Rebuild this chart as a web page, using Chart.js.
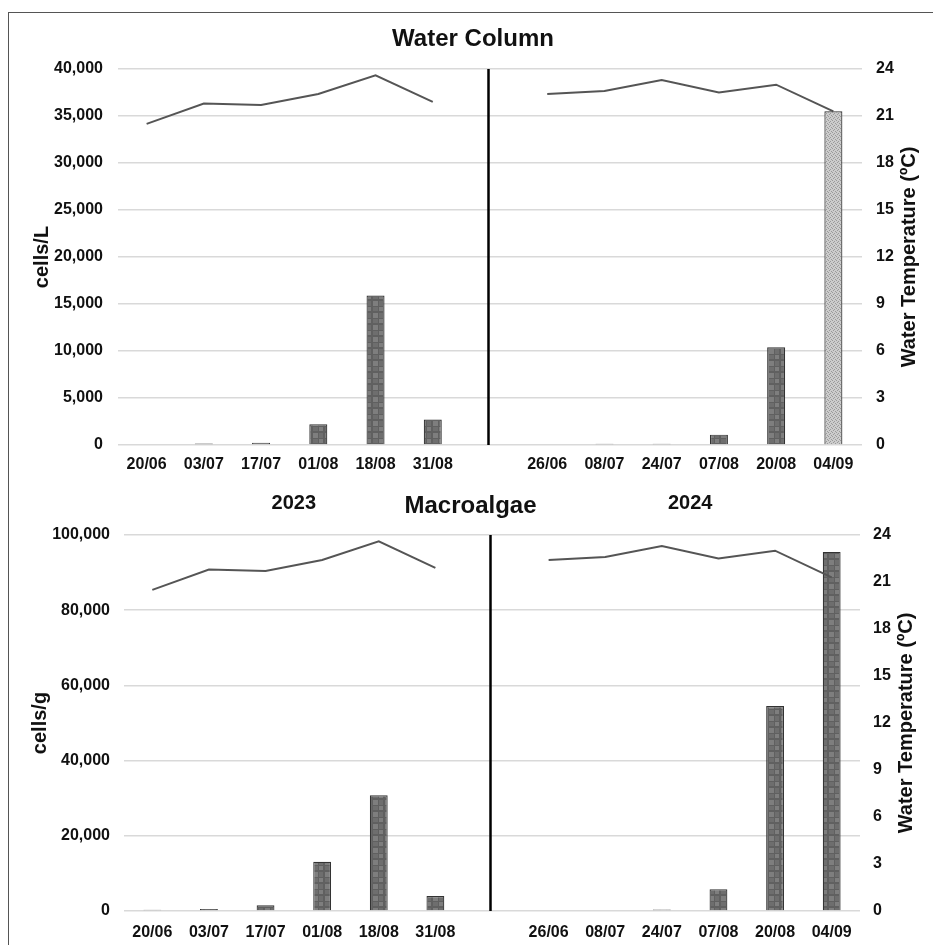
<!DOCTYPE html>
<html><head><meta charset="utf-8">
<script src="https://cdn.jsdelivr.net/npm/chart.js@4/dist/chart.umd.min.js"></script>
<style>
html,body{margin:0;padding:0;background:#fff;}
body{width:933px;height:945px;position:relative;overflow:hidden;}
#frame{position:absolute;left:8px;top:12px;width:1000px;height:1000px;border-left:1.5px solid #555;border-top:1.5px solid #555;}
.wrap{position:absolute;left:0;width:933px;}
#w1{top:0;height:475px;}
#w2{top:475px;height:470px;}
canvas{display:block;}
</style></head><body>
<div id="frame"></div>
<div class="wrap" id="w1"><canvas id="c1" width="933" height="475"></canvas></div>
<div class="wrap" id="w2"><canvas id="c2" width="933" height="470"></canvas></div>
<script>
// ---- data ----
const dates2023 = ['20/06','03/07','17/07','01/08','18/08','31/08'];
const dates2024 = ['26/06','08/07','24/07','07/08','20/08','04/09'];
const temp2023 = [20.5, 21.8, 21.7, 22.4, 23.6, 21.9];
const temp2024 = [22.4, 22.6, 23.3, 22.5, 23.0, 21.3];
const waterColumn2023 = [0, 150, 250, 2200, 15900, 2700];
const waterColumn2024 = [0, 120, 120, 1100, 10400, 35500];
const macroalgae2023 = [300, 500, 1500, 13100, 30800, 4000];
const macroalgae2024 = [0, 0, 400, 5800, 54500, 95500];
const yearLabels = ['2023', '2024'];

const categories = [...dates2023, '', ...dates2024];
const tempSeries = [...temp2023, null, ...temp2024];
const wcSeries = [...waterColumn2023, null, ...waterColumn2024];
const maSeries = [...macroalgae2023, null, ...macroalgae2024];

// ---- styles ----
const FONT = "'Liberation Sans', Arial, Helvetica, sans-serif";
Chart.defaults.font.family = FONT;
Chart.defaults.color = '#111';

function makePattern(kind) {
  const c = document.createElement('canvas');
  const ctx = c.getContext('2d');
  if (kind === 'dark') {
    c.width = 12; c.height = 12;
    ctx.fillStyle = '#606060'; ctx.fillRect(0, 0, 12, 12);
    ctx.fillStyle = '#7e7e7e';
    ctx.fillRect(1, 1, 5, 5); ctx.fillRect(7, 7, 4, 4);
    ctx.fillStyle = '#6e6e6e';
    ctx.fillRect(7, 1, 4, 5); ctx.fillRect(1, 7, 5, 4);
  } else {
    c.width = 4; c.height = 4;
    ctx.fillStyle = '#cccccc'; ctx.fillRect(0, 0, 4, 4);
    ctx.fillStyle = '#9a9a9a';
    ctx.fillRect(0, 0, 1, 1); ctx.fillRect(2, 1, 1, 1); ctx.fillRect(1, 2, 1, 1); ctx.fillRect(3, 3, 1, 1);
  }
  return document.createElement('canvas').getContext('2d').createPattern(c, 'repeat');
}
const darkPat = makePattern('dark');
const lightPat = makePattern('light');

const overlay = {
  id: 'overlay',
  afterDatasetsDraw(chart, args, o) {
    const ctx = chart.ctx, ca = chart.chartArea, xs = chart.scales.x;
    ctx.save();
    // separator between years
    const xSep = xs.getPixelForValue(6) - 1.5;
    ctx.strokeStyle = '#000'; ctx.lineWidth = 2.5;
    ctx.beginPath(); ctx.moveTo(xSep, ca.top); ctx.lineTo(xSep, ca.bottom); ctx.stroke();
    // right axis title (reads bottom-to-top)
    ctx.fillStyle = '#111';
    ctx.font = 'bold 20px ' + FONT;
    ctx.textAlign = 'center'; ctx.textBaseline = 'middle';
    ctx.save();
    ctx.translate(o.rightTitleX, (ca.top + ca.bottom) / 2);
    ctx.rotate(-Math.PI / 2);
    ctx.fillText('Water Temperature (ºC)', 0, 0);
    ctx.restore();
    // panel title
    ctx.font = 'bold 24px ' + FONT;
    ctx.fillText(o.title, o.titleX, o.titleY);
    // year labels
    if (o.yearY) {
      ctx.font = 'bold 20px ' + FONT;
      const x1 = (xs.getPixelForValue(2) + xs.getPixelForValue(3)) / 2;
      const x2 = (xs.getPixelForValue(9) + xs.getPixelForValue(10)) / 2;
      ctx.fillText(yearLabels[0], x1, o.yearY);
      ctx.fillText(yearLabels[1], x2, o.yearY);
    }
    ctx.restore();
  }
};

function build(id, cfg) {
  const barColors = categories.map((_, i) => (cfg.lightLast && i === categories.length - 1) ? lightPat : darkPat);
  const tickFont = { size: 16, weight: 'bold' };
  return new Chart(document.getElementById(id), {
    type: 'bar',
    data: {
      labels: categories,
      datasets: [
        { type: 'line', data: tempSeries, yAxisID: 'y1', borderColor: '#555', borderWidth: 2,
          pointRadius: 0, tension: 0, spanGaps: false, order: 0 },
        { type: 'bar', data: cfg.bars, yAxisID: 'y', backgroundColor: barColors,
          borderColor: '#333', borderWidth: 1.2, barPercentage: 0.9, categoryPercentage: 0.35, order: 1 }
      ]
    },
    options: {
      responsive: false, animation: false, devicePixelRatio: 1,
      layout: { padding: { top: cfg.padTop, left: 0, right: 0, bottom: 0 } },
      plugins: {
        legend: { display: false }, tooltip: { enabled: false },
        overlay: { title: cfg.title, titleX: cfg.titleX, titleY: cfg.titleY, rightTitleX: cfg.rightTitleX, yearY: cfg.yearY }
      },
      scales: {
        x: {
          grid: { display: false, drawTicks: false }, border: { display: false },
          ticks: { font: tickFont, color: '#111', padding: cfg.xPad, maxRotation: 0, autoSkip: false },
          afterFit: s => { s.height = cfg.xHeight; }
        },
        y: {
          position: 'left', min: 0, max: cfg.yMax,
          ticks: { stepSize: cfg.yStep, padding: cfg.yPad, font: tickFont, color: '#111' },
          grid: { color: '#d9d9d9', lineWidth: 1.5, drawTicks: false }, border: { display: false },
          title: { display: true, text: cfg.yTitle, font: { size: 20, weight: 'bold' }, color: '#111', padding: { top: cfg.yTitlePad, bottom: 0 } },
          afterFit: s => { s.width = cfg.leftWidth; }
        },
        y1: {
          position: 'right', min: 0, max: 24,
          ticks: { stepSize: 3, padding: cfg.y1Pad, font: tickFont, color: '#111' },
          grid: { display: false, drawTicks: false }, border: { display: false },
          afterFit: s => { s.width = cfg.rightWidth; }
        }
      }
    },
    plugins: [overlay]
  });
}

build('c1', {
  bars: wcSeries, lightLast: true, padTop: 69, xHeight: 30, xPad: 10,
  yMax: 40000, yStep: 5000, yPad: 15, yTitle: 'cells/L', yTitlePad: 30,
  leftWidth: 118, rightWidth: 71, y1Pad: 14,
  title: 'Water Column', titleX: 473, titleY: 39, rightTitleX: 909.5
});
build('c2', {
  bars: maSeries, lightLast: false, padTop: 60, xHeight: 34, xPad: 12,
  yMax: 100000, yStep: 20000, yPad: 14, yTitle: 'cells/g', yTitlePad: 28,
  leftWidth: 124, rightWidth: 73, y1Pad: 13,
  title: 'Macroalgae', titleX: 470.5, titleY: 31.5, rightTitleX: 906, yearY: 28
});
</script>
</body></html>
